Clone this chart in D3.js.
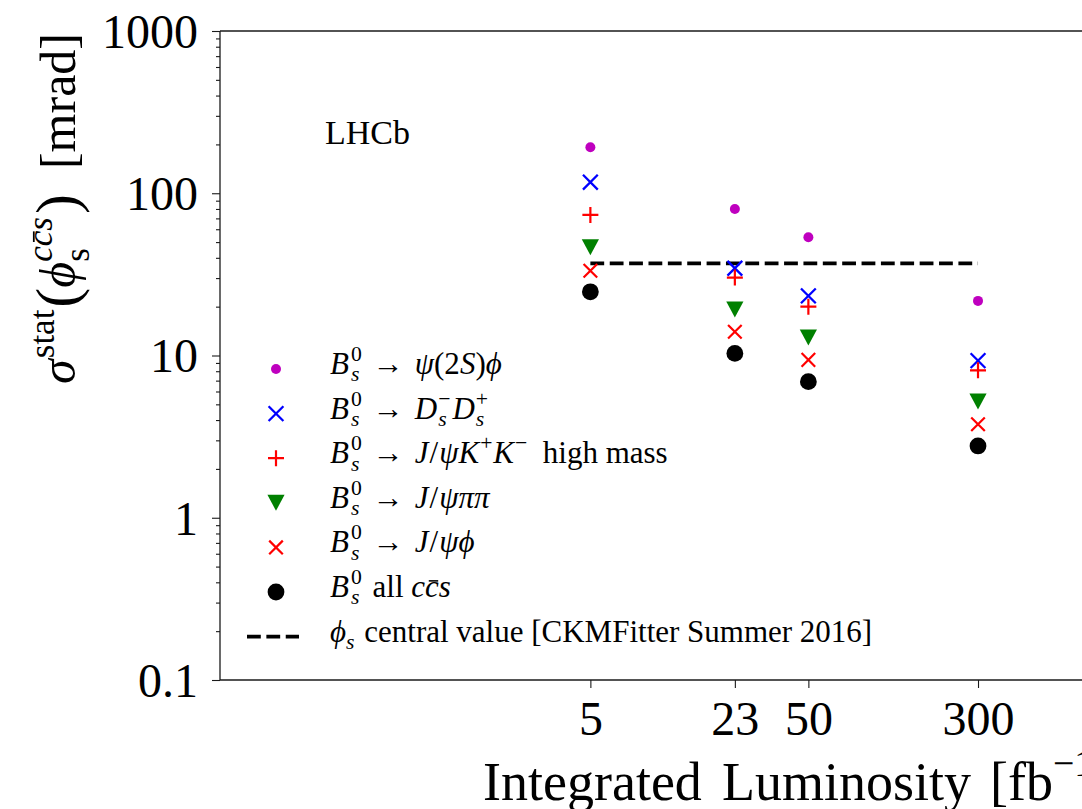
<!DOCTYPE html>
<html>
<head>
<meta charset="utf-8">
<script src="https://cdn.jsdelivr.net/npm/d3@7"></script>
<style>
  body { margin: 0; background: #fff; }
  text { font-family: "Liberation Serif", "Times New Roman", serif; fill: #000; white-space: pre; }
</style>
</head>
<body>
<svg id="chart" width="1082" height="809"></svg>
<script>
// Integrated luminosity points [fb^-1] and axis ticks
const luminosity = [5, 23, 50, 300];
const xTickValues = [5, 23, 50, 300];
const xTickLabels = ["5", "23", "50", "300"];
const yTickValues = [0.1, 1, 10, 100, 1000];
const yTickLabels = ["0.1", "1", "10", "100", "1000"];

// Statistical precision on phi_s per channel [mrad]
const psi2sPhi   = [192, 80, 53.5, 21.7];
const dsDs       = [117, 34.5, 23.3, 9.3];
const jpsiKKHigh = [73.5, 30.2, 20.0, 8.1];
const jpsiPiPi   = [46.5, 19.2, 12.9, 5.2];
const jpsiPhi    = [33.3, 14.0, 9.4, 3.77];
const allCcs     = [24.7, 10.3, 6.9, 2.77];

// CKMFitter central value, drawn over the luminosity span
const phiSCentral = 37.0;
const phiSSpan = [5, 300];
const experimentLabel = "LHCb";

const svg = d3.select("#chart");
const x = d3.scaleLog().domain([0.1, 1000]).range([220, 1092]);
const y = d3.scaleLog().domain([0.1, 1000]).range([680, 31]);

// Rich text: sequence of segments with italic / superscript / subscript
function richText(parent, segs, size) {
  const g = parent.append("g");
  let cx = 0, supStart = 0, supW = 0;
  segs.forEach(s => {
    cx += s.padL || 0;
    const small = s.pos === "sup" || s.pos === "sub";
    const fs = (s.scale || (small ? 0.7 : 1)) * size;
    let dy = s.pos === "sup" ? -0.42 * size : s.pos === "sub" ? 0.24 * size : 0;
    if (s.dy) dy += s.dy * size;
    const x0 = s.stack ? supStart : cx;
    const t = g.append("text")
      .attr("x", x0).attr("y", dy)
      .attr("font-size", fs)
      .style("font-style", s.i ? "italic" : "normal")
      .text(s.t);
    const w = t.node().getComputedTextLength();
    if (s.over) {
      g.append("line")
        .attr("x1", x0 + 0.12 * fs).attr("x2", x0 + w - 0.02 * fs)
        .attr("y1", dy - 0.52 * fs).attr("y2", dy - 0.52 * fs)
        .attr("stroke", "#000").attr("stroke-width", 0.05 * fs);
    }
    if (s.pos === "sup" && !s.cont) { supStart = x0; supW = w; }
    else if (s.pos === "sup" && s.cont) { supW += w; }
    cx = s.stack ? Math.max(x0 + w, supStart + supW) : x0 + w;
    cx += s.padR || 0;
  });
  return { g, width: cx };
}

const Bs = [
  { t: "B", i: true },
  { t: "0", pos: "sup", padL: 2 },
  { t: "s", pos: "sub", i: true, stack: true }
];
const arrow = { t: "\u2192", padL: 11, padR: 11 };
const Jpsi = [{ t: "J", i: true }, { t: "/", padL: 1 }, { t: "\u03C8", i: true, padL: 1 }];

// Marker shapes
function drawMarker(g, type, color) {
  if (type === "dotSmall") {
    g.append("circle").attr("r", 5).attr("fill", color);
  } else if (type === "dot") {
    g.append("circle").attr("r", 8.4).attr("fill", color);
  } else if (type === "x") {
    const h = 7.4;
    g.append("path").attr("d", `M${-h},${-h}L${h},${h}M${-h},${h}L${h},${-h}`)
      .attr("stroke", color).attr("stroke-width", 2.3).attr("fill", "none");
  } else if (type === "xs") {
    const h = 6.8;
    g.append("path").attr("d", `M${-h},${-h}L${h},${h}M${-h},${h}L${h},${-h}`)
      .attr("stroke", color).attr("stroke-width", 2.2).attr("fill", "none");
  } else if (type === "plus") {
    const h = 8;
    g.append("path").attr("d", `M${-h},0L${h},0M0,${-h}L0,${h}`)
      .attr("stroke", color).attr("stroke-width", 2.2).attr("fill", "none");
  } else if (type === "tri") {
    g.append("path").attr("d", "M-8.6,-8L8.6,-8L0,8Z").attr("fill", color);
  }
}

const series = [
  { values: psi2sPhi, color: "#bf00bf", marker: "dotSmall",
    label: [...Bs, arrow, { t: "\u03C8", i: true }, { t: "(2" }, { t: "S", i: true }, { t: ")" }, { t: "\u03D5", i: true }] },
  { values: dsDs, color: "#0000ff", marker: "x",
    label: [...Bs, arrow, { t: "D", i: true }, { t: "\u2212", pos: "sup", padL: 1 }, { t: "s", pos: "sub", i: true, stack: true },
            { t: "D", i: true, padL: 2 }, { t: "+", pos: "sup", padL: 1 }, { t: "s", pos: "sub", i: true, stack: true }] },
  { values: jpsiKKHigh, color: "#ff0000", marker: "plus",
    label: [...Bs, arrow, ...Jpsi, { t: "K", i: true }, { t: "+", pos: "sup", padL: 1 }, { t: "K", i: true, padL: 1 },
            { t: "\u2212", pos: "sup", padL: 1 }, { t: "  high mass" }] },
  { values: jpsiPiPi, color: "#008000", marker: "tri",
    label: [...Bs, arrow, ...Jpsi, { t: "\u03C0\u03C0", i: true }] },
  { values: jpsiPhi, color: "#ff0000", marker: "xs",
    label: [...Bs, arrow, ...Jpsi, { t: "\u03D5", i: true }] },
  { values: allCcs, color: "#000000", marker: "dot",
    label: [...Bs, { t: " all ", padL: 3 }, { t: "c", i: true }, { t: "c", i: true, over: true }, { t: "s", i: true }] }
];

// Dashed central-value line
svg.append("line")
  .attr("x1", x(phiSSpan[0])).attr("x2", x(phiSSpan[1]))
  .attr("y1", y(phiSCentral)).attr("y2", y(phiSCentral))
  .attr("stroke", "#000").attr("stroke-width", 3.7)
  .attr("stroke-dasharray", "13.8 5.57");

// Data markers
series.forEach(s => {
  s.values.forEach((v, k) => {
    const g = svg.append("g").attr("transform", `translate(${x(luminosity[k])},${y(v)})`);
    drawMarker(g, s.marker, s.color);
  });
});

// Spines
const spine = svg.append("g").attr("stroke", "#1a1a1a").attr("stroke-width", 1.3);
spine.append("line").attr("x1", 220).attr("x2", 220).attr("y1", 31).attr("y2", 680);
spine.append("line").attr("x1", 220).attr("x2", 1092).attr("y1", 680).attr("y2", 680);
spine.append("line").attr("x1", 220).attr("x2", 1092).attr("y1", 31).attr("y2", 31);
spine.append("line").attr("x1", 1092).attr("x2", 1092).attr("y1", 31).attr("y2", 680);

// Y axis: major ticks with labels, minor ticks
const yMajor = svg.append("g").attr("transform", "translate(220,0)")
  .call(d3.axisLeft(y).tickValues(yTickValues).tickSize(8).tickPadding(14)
    .tickFormat((d, i) => yTickLabels[i]));
const yMinorVals = [];
[0.1, 1, 10, 100].forEach(b => { for (let m = 2; m <= 9; m++) yMinorVals.push(b * m); });
const yMinor = svg.append("g").attr("transform", "translate(220,0)")
  .call(d3.axisLeft(y).tickValues(yMinorVals).tickSize(4).tickFormat(""));

// X axis
const xAxis = svg.append("g").attr("transform", "translate(0,680)")
  .call(d3.axisBottom(x).tickValues(xTickValues).tickSize(8)
    .tickFormat((d, i) => xTickLabels[i]));

[yMajor, yMinor, xAxis].forEach(a => {
  a.select(".domain").remove();
  a.selectAll(".tick line").attr("stroke", "#1a1a1a").attr("stroke-width", 1.1);
  a.selectAll("text").attr("font-family", null).attr("font-size", null)
    .style("font-size", "48px").attr("fill", "#000");
});
yMajor.selectAll("text").attr("dy", "0.34em");
xAxis.selectAll("text").attr("y", 55).attr("dy", 0);

// X axis title, word by word
const xTitle = svg.append("g").attr("transform", "translate(0,800)");
xTitle.append("text").attr("x", 483).style("font-size", "54px").text("Integrated");
xTitle.append("text").attr("x", 722).style("font-size", "54px").text("Luminosity");
const xUnit = richText(xTitle, [
  { t: "[fb" },
  { t: "\u22121", pos: "sup", dy: -0.02 },
  { t: "]" }
], 54);
xUnit.g.attr("transform", "translate(990,0)");

// Y axis title
const yt = richText(svg, [
  { t: "\u03C3", i: true },
  { t: "stat", pos: "sup", padL: 1 },
  { t: "(", scale: 1.2, dy: 0.04, padL: 2 },
  { t: "\u03D5", i: true },
  { t: "c", pos: "sup", i: true, dy: -0.04 },
  { t: "c", pos: "sup", i: true, cont: true, over: true, dy: -0.04 },
  { t: "s", pos: "sup", i: true, cont: true, dy: -0.04 },
  { t: "s", pos: "sub", stack: true, dy: 0.04 },
  { t: ")", scale: 1.2, dy: 0.04, padL: 3 },
  { t: "  [mrad]" }
], 50);
yt.g.attr("transform", `translate(75,${33 + yt.width}) rotate(-90)`);

// Experiment label
svg.append("text").attr("x", 325).attr("y", 144).style("font-size", "34px").text(experimentLabel);

// Legend
const legendY0 = 369, legendDY = 44.6, legendFont = 31;
series.forEach((s, i) => {
  const yy = legendY0 + i * legendDY;
  const g = svg.append("g").attr("transform", `translate(276,${yy})`);
  drawMarker(g, s.marker, s.color);
  const lt = richText(svg, s.label, legendFont);
  lt.g.attr("transform", `translate(330,${yy + 5})`);
});
const yLast = legendY0 + 6 * legendDY;
svg.append("line").attr("x1", 247).attr("x2", 299).attr("y1", yLast).attr("y2", yLast)
  .attr("stroke", "#000").attr("stroke-width", 3.7).attr("stroke-dasharray", "13.8 5.57");
const lastLabel = richText(svg, [
  { t: "\u03D5", i: true }, { t: "s", pos: "sub", i: true },
  { t: " central value [CKMFitter Summer 2016]", padL: 2 }
], legendFont);
lastLabel.g.attr("transform", `translate(330,${yLast + 5})`);
</script>
</body>
</html>
